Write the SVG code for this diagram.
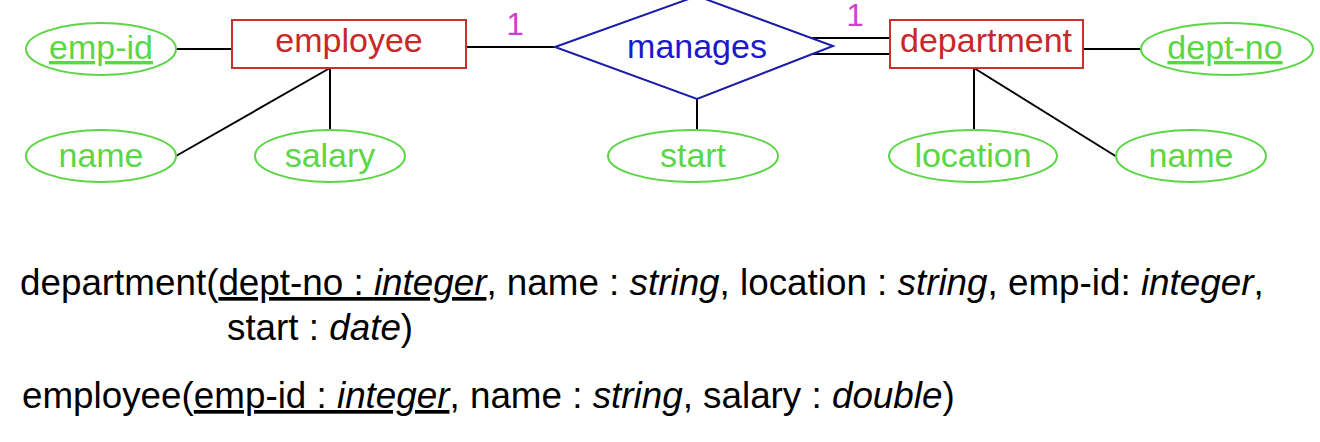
<svg xmlns="http://www.w3.org/2000/svg" width="1320" height="442" viewBox="0 0 1320 442">
<style>
.attr{fill:#fff;stroke:#5cd646;stroke-width:2}
.attrt{fill:#5cd646;font-family:"Liberation Sans",Arial,sans-serif;font-size:34px;text-anchor:middle}
.ent{fill:#fff;stroke:#c8302e;stroke-width:2}
.entt{fill:#c8282a;font-family:"Liberation Sans",Arial,sans-serif;font-size:34px;text-anchor:middle}
.rel{fill:#fff;stroke:#1c1ca8;stroke-width:2}
.relt{fill:#1a1acc;font-family:"Liberation Sans",Arial,sans-serif;font-size:34px;text-anchor:middle}
.card{fill:#d23cd2;font-family:"Liberation Sans",Arial,sans-serif;font-size:31px;text-anchor:middle}
.ln{stroke:#000;stroke-width:2;fill:none}
.schema{fill:#000;font-family:"Liberation Sans",Arial,sans-serif;font-size:36.8px}
.it{font-style:italic}
</style>
<rect width="1320" height="442" fill="#fff"/>
<g id="connectors">
<line class="ln" x1="176" y1="49" x2="232" y2="49"/>
<line class="ln" x1="176" y1="156" x2="330" y2="68"/>
<line class="ln" x1="330" y1="68" x2="330" y2="130"/>
<line class="ln" x1="466" y1="47" x2="555" y2="47"/>
<line class="ln" x1="812" y1="38" x2="890" y2="38"/>
<line class="ln" x1="812" y1="54" x2="890" y2="54"/>
<line class="ln" x1="697" y1="99" x2="697" y2="130"/>
<line class="ln" x1="1083" y1="49" x2="1141" y2="49"/>
<line class="ln" x1="974" y1="68" x2="974" y2="130"/>
<line class="ln" x1="974" y1="68" x2="1117" y2="157"/>
<text class="card" x="515" y="35">1</text>
<text class="card" x="855" y="26">1</text>
</g>
<g id="employee">
<rect class="ent" x="232" y="20" width="234" height="48"/>
<text class="entt" x="349" y="52">employee</text>
</g>
<g id="emp-id">
<ellipse class="attr" cx="101" cy="49" rx="75" ry="26"/>
<text class="attrt" x="101" y="59" text-decoration="underline">emp-id</text>
</g>
<g id="emp-name">
<ellipse class="attr" cx="101" cy="156" rx="75" ry="26"/>
<text class="attrt" x="101" y="167">name</text>
</g>
<g id="salary">
<ellipse class="attr" cx="330" cy="156" rx="75" ry="26"/>
<text class="attrt" x="330" y="167">salary</text>
</g>
<g id="manages">
<polygon class="rel" points="555,47 697,-4 833,46 697,99"/>
<text class="relt" x="697" y="58">manages</text>
</g>
<g id="start">
<ellipse class="attr" cx="693" cy="156" rx="85" ry="26"/>
<text class="attrt" x="693" y="167">start</text>
</g>
<g id="department">
<rect class="ent" x="890" y="20" width="193" height="48"/>
<text class="entt" x="986" y="52">department</text>
</g>
<g id="dept-no">
<ellipse class="attr" cx="1227" cy="49" rx="86" ry="26"/>
<text class="attrt" x="1225" y="59" text-decoration="underline">dept-no</text>
</g>
<g id="location">
<ellipse class="attr" cx="973" cy="156" rx="84" ry="26"/>
<text class="attrt" x="973" y="167">location</text>
</g>
<g id="dept-name">
<ellipse class="attr" cx="1191" cy="156" rx="75" ry="26"/>
<text class="attrt" x="1191" y="167">name</text>
</g>
<g id="schema">
<text class="schema" x="20" y="295">department(<tspan text-decoration="underline">dept-no : <tspan class="it">integer</tspan></tspan>, name : <tspan class="it">string</tspan>, location : <tspan class="it">string</tspan>, emp-id: <tspan class="it">integer</tspan>,</text>
<text class="schema" x="227" y="340">start : <tspan class="it">date</tspan>)</text>
<text class="schema" x="22" y="408">employee(<tspan text-decoration="underline">emp-id : <tspan class="it">integer</tspan></tspan>, name : <tspan class="it">string</tspan>, salary : <tspan class="it">double</tspan>)</text>
</g>
</svg>
